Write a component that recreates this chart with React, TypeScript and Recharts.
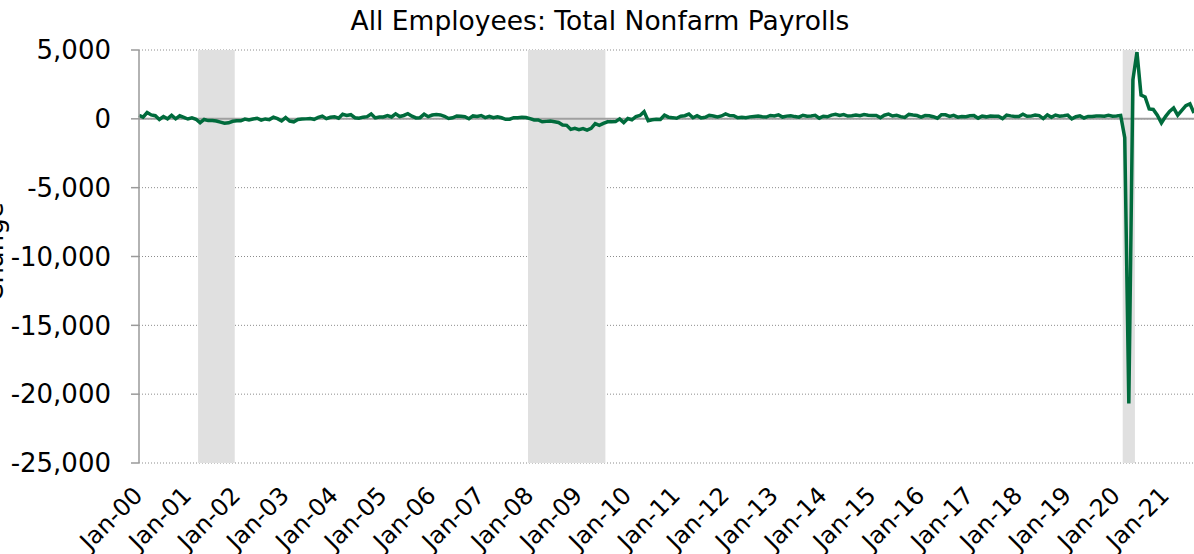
import {
  LineChart,
  Line,
  XAxis,
  YAxis,
  CartesianGrid,
  ReferenceArea,
  ReferenceLine,
} from "recharts";

// monthly change in total nonfarm payrolls, thousands, Jan 2000 onward
const y2000 = [249, 117, 460, 286, 228, -45, 168, -1, 259, -1, 218, 100];
const y2001 = [-14, 71, -30, -280, -45, -127, -124, -163, -243, -325, -292, -178];
const y2002 = [-132, -141, -20, -84, -18, 45, -94, -8, -56, 122, 13, -153];
const y2003 = [89, -158, -215, -49, -9, -3, 24, -36, 100, 201, 14, 114];
const y2004 = [157, 45, 330, 247, 300, 80, 40, 120, 158, 351, 65, 128];
const y2005 = [138, 239, 134, 362, 168, 244, 373, 194, 67, 84, 334, 158];
const y2006 = [278, 316, 283, 183, 26, 79, 212, 184, 157, 8, 211, 171];
const y2007 = [238, 88, 188, 79, 143, 78, -33, -24, 87, 82, 116, 97];
const y2008 = [17, -84, -78, -210, -185, -165, -209, -266, -452, -473, -769, -695];
const y2009 = [-791, -703, -823, -687, -349, -471, -329, -213, -220, -204, -2, -275];
const y2010 = [23, -68, 164, 243, 524, -137, -68, -36, -52, 262, 119, 87];
const y2011 = [43, 189, 225, 346, 77, 225, 69, 110, 248, 209, 141, 209];
const y2012 = [358, 237, 233, 78, 115, 76, 143, 177, 203, 146, 132, 244];
const y2013 = [211, 286, 130, 197, 226, 162, 122, 261, 190, 212, 258, 47];
const y2014 = [190, 151, 272, 329, 246, 304, 202, 230, 280, 227, 312, 255];
const y2015 = [234, 238, 86, 262, 344, 206, 254, 157, 100, 321, 272, 239];
const y2016 = [126, 237, 225, 153, 43, 297, 291, 176, 249, 124, 164, 155];
const y2017 = [216, 232, 50, 207, 145, 210, 187, 182, 18, 264, 216, 175];
const y2018 = [171, 330, 182, 196, 270, 235, 19, 282, 108, 277, 196, 227];
const y2019 = [269, 1, 153, 216, 62, 172, 166, 207, 208, 185, 261, 184];
const y2020 = [214, 251, -1373, -20679, 2833, 4846, 1726, 1583, 716, 680, 264, -306];
const y2021 = [166, 536, 785, 269, 614, 962, 1091, 420];

const changes = [
  ...y2000, ...y2001, ...y2002, ...y2003, ...y2004, ...y2005, ...y2006,
  ...y2007, ...y2008, ...y2009, ...y2010, ...y2011, ...y2012, ...y2013,
  ...y2014, ...y2015, ...y2016, ...y2017, ...y2018, ...y2019, ...y2020,
  ...y2021,
];

// recession bands, in months since Jan 2000
const recessions = [
  { from: 14.5, to: 23.5 },
  { from: 95.5, to: 114.5 },
  { from: 241.5, to: 244.5 },
];

const yTicks = [-25000, -20000, -15000, -10000, -5000, 0, 5000];
const xTicks = [0, 12, 24, 36, 48, 60, 72, 84, 96, 108, 120, 132, 144, 156, 168, 180, 192, 204, 216, 228, 240, 252];

const data = changes.map((v, i) => ({ m: i, change: v }));

const FONT = "'DejaVu Sans', Verdana, sans-serif";

const fmtMonth = (m: number) => {
  const yy = String(Math.floor(m / 12)).padStart(2, "0");
  return `Jan-${yy}`;
};

const XTick = ({ x, payload }: any) => {
  const ax = x + 5;
  const ay = 497;
  return (
    <text
      x={ax}
      y={ay}
      transform={`rotate(-45, ${ax}, ${ay})`}
      textAnchor="end"
      fontSize={24}
      fontFamily={FONT}
      fill="#000"
    >
      {fmtMonth(payload.value)}
    </text>
  );
};

export default function App() {
  return (
    <div style={{ position: "absolute", left: 0, top: 0, width: 1194, height: 554, background: "#fff" }}>
      <LineChart
        width={1194}
        height={554}
        data={data}
        margin={{ top: 50, right: 0, bottom: 0, left: 0 }}
      >
        <CartesianGrid
          horizontal
          vertical={false}
          stroke="#8c8c8c"
          strokeDasharray="1 2"
        />
        {recessions.map((r) => (
          <ReferenceArea
            key={r.from}
            x1={r.from}
            x2={r.to}
            fill="#e0e0e0"
            fillOpacity={1}
            stroke="none"
            ifOverflow="hidden"
          />
        ))}
        <XAxis
          dataKey="m"
          type="number"
          domain={[0, 259]}
          ticks={xTicks}
          interval={0}
          axisLine={false}
          tickLine={false}
          height={91}
          tick={<XTick />}
        />
        <YAxis
          domain={[-25000, 5000]}
          ticks={yTicks}
          width={139}
          interval={0}
          axisLine={{ stroke: "#9a9a9a", strokeWidth: 1.5 }}
          tickLine={{ stroke: "#9a9a9a", strokeWidth: 1.5 }}
          tickSize={8}
          tickMargin={20}
          tickFormatter={(v: number) => v.toLocaleString("en-US")}
          tick={{ fill: "#000", fontSize: 26, fontFamily: FONT }}
        />
        <ReferenceLine y={0} stroke="#a0a0a0" strokeWidth={2} />
        <Line
          type="linear"
          dataKey="change"
          stroke="#006b3c"
          strokeWidth={3.5}
          dot={false}
          isAnimationActive={false}
        />
      </LineChart>
      <svg
        width={1194}
        height={554}
        style={{ position: "absolute", left: 0, top: 0, pointerEvents: "none" }}
      >
        <text
          x={600}
          y={30}
          textAnchor="middle"
          fontSize={26.5}
          fontFamily={FONT}
          fill="#000"
        >
          All Employees: Total Nonfarm Payrolls
        </text>
        <text
          x={3}
          y={252}
          transform="rotate(-90, 3, 252)"
          textAnchor="middle"
          fontSize={26}
          fontFamily={FONT}
          fill="#000"
        >
          Change
        </text>
      </svg>
    </div>
  );
}
